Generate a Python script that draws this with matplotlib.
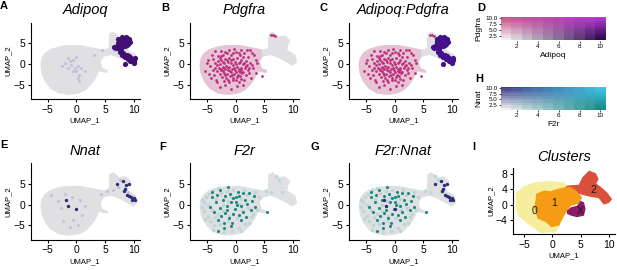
import matplotlib
matplotlib.use("Agg")
import matplotlib.pyplot as plt
import matplotlib.colors as mcolors
import numpy as np

plt.rcParams["font.family"] = ["Liberation Sans", "DejaVu Sans"]

W, H = 617, 270

# ---- data (UMAP coordinates) ----
cloud_outline = [
    (-6.3, -0.2), (-6.1, 1.3), (-5.6, 2.5), (-4.6, 3.5), (-3.0, 4.2), (-1.6, 4.5),
    (0.7, 4.5), (2.5, 4.0), (4.0, 3.6), (4.8, 3.4), (5.6, 3.8), (5.7, 7.3),
    (6.5, 7.8), (7.4, 6.6), (8.6, 6.8), (9.5, 5.7), (9.1, 4.3), (9.0, 3.3),
    (10.4, 2.2), (10.7, 0.3), (9.9, -0.5), (8.3, 0.8), (7.1, 1.6), (6.0, 2.1),
    (4.8, 1.7), (4.2, 0.5), (4.5, -1.0), (5.5, -1.6), (5.4, -2.2), (4.6, -2.0),
    (3.9, -1.8), (3.4, -3.4), (2.6, -5.0), (1.6, -6.4), (0.3, -7.2), (-1.5, -7.5),
    (-3.2, -7.1), (-4.6, -5.9), (-5.5, -4.3), (-6.1, -2.4),
]
main_blob_outline = [
    (-6.3, -0.2), (-6.1, 1.3), (-5.6, 2.5), (-4.6, 3.5), (-3.0, 4.2), (-1.6, 4.5),
    (0.7, 4.5), (2.5, 4.0), (4.0, 3.6), (4.6, 3.3), (4.6, 1.8), (4.2, 0.5),
    (4.5, -1.0), (5.5, -1.6), (5.4, -2.2), (4.6, -2.0), (3.9, -1.8), (3.4, -3.4),
    (2.6, -5.0), (1.6, -6.4), (0.3, -7.2), (-1.5, -7.5), (-3.2, -7.1), (-4.6, -5.9),
    (-5.5, -4.3), (-6.1, -2.4),
]

adipoq_high = [
    (7.1, 4.3), (7.3, 4.9), (7.4, 5.5), (7.7, 5.9), (8.05, 6.15), (8.4, 6.2),
    (8.8, 6.1), (9.1, 5.7), (9.25, 5.25), (9.0, 4.8), (8.8, 4.45), (8.4, 4.35),
    (8.05, 4.3), (7.8, 3.9), (7.65, 3.5), (7.8, 3.0), (8.05, 2.5), (8.4, 2.2),
    (8.8, 2.0), (9.2, 1.75), (9.55, 1.5), (9.85, 1.2), (10.1, 0.9), (9.95, 0.4),
    (9.95, 0.1), (9.4, 0.65), (9.6, 0.9), (9.3, 1.2), (7.6, 5.2), (8.2, 5.7),
    (8.7, 5.6), (7.5, 4.6), (7.35, 3.8), (7.6, 2.8), (8.5, 1.7), (9.0, 1.2),
    (6.9, 3.9), (6.6, 4.0), (8.3, 4.8), (7.9, 6.4), (8.6, 6.4), (9.2, 6.0),
    (7.3, 5.9), (7.9, 2.2), (8.3, 1.9), (9.8, 0.7), (10.2, 1.3), (8.5, -0.15),
]
adipoq_low = [
    (-1.5, 1.4), (-1.2, 0.6), (-0.6, 1.0), (-0.9, -0.2), (-0.1, 1.7), (-0.3, -1.0),
    (0.2, -0.6), (-0.1, -1.8), (0.8, -1.0), (0.5, -2.6), (1.4, -1.8), (-2.6, -0.6),
    (-1.5, -1.0), (-0.6, -1.8), (0.2, -3.4), (0.5, -4.2), (3.1, 2.1), (4.5, 3.3),
    (6.6, 3.3), (-2.0, 0.3),
]
pdgfra_high = [
    (-2.8, 1.5), (-2.2, 2.2), (-1.5, 2.6), (-0.8, 2.1), (0.1, 2.8), (0.8, 2.0), (1.5, 2.5), (2.2, 1.6),
    (-3.1, 0.6), (-2.5, 0.9), (-1.9, 1.2), (-1.2, 1.4), (-0.5, 1.1), (0.3, 1.3), (1.0, 0.9), (1.8, 0.7),
    (2.5, 0.3), (-3.3, -0.2), (-2.7, -0.1), (-2.0, 0.2), (-1.4, 0.4), (-0.8, 0.1), (-0.2, 0.5), (0.5, 0.2),
    (1.2, -0.1), (2.0, -0.3), (-2.9, -0.9), (-2.3, -0.7), (-1.7, -0.5), (-1.1, -0.8), (-0.5, -0.4),
    (0.2, -0.7), (0.9, -0.9), (1.6, -1.1), (-3.2, -1.7), (-2.5, -1.5), (-1.9, -1.3), (-1.3, -1.6),
    (-0.7, -1.2), (-0.1, -1.5), (0.6, -1.7), (1.3, -1.9), (2.1, -1.6), (-2.8, -2.4), (-2.1, -2.2),
    (-1.5, -2.5), (-0.9, -2.1), (-0.3, -2.4), (0.4, -2.6), (1.1, -2.3), (1.8, -2.7), (-2.4, -3.2),
    (-1.7, -3.4), (-1.0, -3.0), (-0.4, -3.5), (0.3, -3.2), (1.0, -3.6), (-2.0, -4.2), (-1.2, -4.4),
    (-0.5, -4.0), (0.5, -4.5), (1.5, -4.0), (-5.4, -1.8), (-4.8, 1.0), (-4.5, -0.5), (-4.2, 2.0),
    (-3.8, -2.8), (-4.3, -3.5), (-3.6, 3.0), (-3.9, 1.2), (-2.8, -5.6), (-0.8, -6.0), (-1.8, -5.2),
    (0.2, -5.3), (1.2, -5.0), (-3.3, -4.5), (2.5, 3.3), (3.6, 1.0), (4.5, -3.0), (3.0, -1.0),
    (2.8, 2.6), (3.5, -2.2), (2.6, -3.5), (3.2, 2.0), (1.9, 3.4), (-0.3, 3.5), (-1.2, 3.3),
    (-2.6, 3.0), (0.9, 3.2), (-3.6, 0.2), (-4.0, -1.5), (-3.5, -3.8), (2.4, -2.2), (2.9, -0.4),
    (3.8, 0.2), (-5.0, 0.3), (-4.7, -2.5), (6.5, 6.8), (6.8, 6.7), (6.2, 6.9),
    (-2.5, 1.9), (-1.8, 2.8), (-0.4, 2.5), (0.5, 2.6), (1.2, 1.6), (-2.2, 0.5), (-1.6, 0.9),
    (-0.9, 0.9), (0.0, 0.0), (0.8, 0.5), (1.5, 0.2), (-2.6, -1.2), (-2.0, -0.9), (-1.4, -1.0),
    (-0.3, -0.9), (0.5, -1.2), (1.0, -1.5), (-2.2, -1.8), (-1.0, -1.8), (0.0, -2.0), (0.8, -2.0),
    (-1.8, -2.8), (-0.6, -2.8), (0.7, -3.0), (-1.4, -3.8), (0.0, -3.9), (-3.6, -1.0), (-3.0, 1.8),
    (1.8, -0.5), (2.3, -0.9),
]
nnat_high = [
    (7.1, 4.9), (8.05, 5.6), (8.6, 4.8), (9.2, 5.0), (8.4, 3.8), (8.2, 3.3),
    (8.8, 2.3), (9.55, 1.9), (9.95, 1.5), (10.2, 1.1), (9.65, 1.0), (9.2, 2.1),
    (-1.8, 1.1), (-1.55, -0.3), (0.0, -1.1),
]
nnat_low = [
    (-4.4, 2.3), (-2.7, -0.9), (-2.0, 2.5), (-0.8, 1.8), (0.6, 1.2), (1.4, -0.3),
    (-0.6, -3.8), (-1.2, -5.5), (0.2, -5.0), (-2.3, -4.0), (1.0, -2.5), (4.3, 2.6),
    (5.3, 3.3), (6.3, 3.6), (7.3, 4.2), (7.6, 6.0), (8.9, 3.1), (-3.3, 0.8),
]
f2r_high = [
    (-4.2, 3.0), (-4.2, 1.8), (-2.7, 3.5), (-1.3, 4.2), (-0.5, 1.5), (0.1, 0.7), (0.6, 2.1),
    (1.7, 1.1), (3.2, 2.1), (3.4, -0.7), (5.4, -1.9), (-3.0, -3.6), (-2.1, -5.7), (-3.0, -6.4),
    (-0.6, -4.4), (0.6, -2.6), (-1.8, -2.1), (-3.5, 0.5), (-2.8, -0.8), (-2.2, 1.0), (-1.5, -0.3),
    (-1.0, 2.6), (-0.2, -1.0), (0.4, 3.0), (1.0, -0.4), (1.3, -1.8), (2.0, 0.2), (2.4, 2.8),
    (-3.8, -1.8), (-2.5, -2.8), (-1.2, -3.3), (-0.4, -2.2), (0.9, -3.6), (1.8, -2.9), (-1.8, 2.0),
    (-0.8, 0.5), (0.3, -0.2), (-2.0, -4.5), (-0.9, -5.2), (2.6, -1.2), (-4.4, -0.6), (-3.3, 2.3),
    (1.2, 2.9), (-1.6, -1.2), (0.0, 1.9), (2.9, 0.9),
]
f2r_low = [
    (-5.6, 0.5), (-5.2, 1.8), (-5.5, -1.5), (-4.9, -2.8), (-4.6, 2.6), (-4.9, 0.0), (-4.5, -4.0),
    (-3.9, 3.4), (-3.7, -5.0), (-3.4, 1.4), (-3.1, -2.2), (-2.8, -4.7), (-2.5, 2.8), (-2.3, -0.2),
    (-2.0, -6.5), (-1.6, 3.3), (-1.3, 0.8), (-1.1, -2.7), (-0.7, -6.3), (-0.4, 3.6), (0.2, -3.3),
    (0.5, -5.6), (0.9, 1.3), (1.4, 3.5), (1.6, -4.6), (2.2, -0.8), (2.7, -3.0), (3.3, 3.1),
    (3.7, -1.4), (4.1, 1.9), (-5.9, -0.6), (-5.3, -3.4), (-4.2, -1.2), (-3.6, -3.0), (-2.2, -1.6),
    (-1.4, -4.0), (0.6, 0.2), (1.1, -1.2), (2.0, 2.2), (-0.9, 1.9), (6.2, 3.0), (5.2, 3.3),
    (7.5, 5.8), (8.0, 3.0), (7.0, 6.8), (-4.0, -6.0), (-5.8, 1.2), (-3.0, 3.9), (1.0, -6.3),
    (2.4, -4.4), (3.0, -2.2),
]

clusters = ["0", "1", "2", "X"]
cluster_outlines = {
    "0": [(-6.4, 3.2), (-5.0, 4.9), (-3.2, 5.8), (-0.5, 6.2), (2.1, 5.8), (3.0, 4.5),
          (2.5, 1.0), (1.8, -3.0), (1.4, -5.5), (0.6, -7.2), (-2.0, -7.5), (-4.4, -5.0),
          (-6.0, -3.0), (-6.4, -1.6)],
    "2": [(1.9, 4.1), (2.7, 5.0), (4.7, 5.2), (5.3, 7.1), (6.5, 8.9), (7.7, 8.2),
          (8.2, 6.7), (7.8, 5.5), (8.6, 4.6), (9.7, 3.2), (10.6, 1.4), (10.0, 0.4),
          (9.1, 0.0), (8.2, 1.7), (6.5, 2.1), (4.7, 2.8), (3.3, 3.2), (2.1, 3.2)],
    "1": [(-2.9, 2.8), (-1.4, 3.7), (-0.3, 3.5), (0.9, 4.1), (2.1, 4.5), (3.2, 4.6),
          (4.2, 3.7), (5.3, 1.9), (4.7, 0.2), (3.3, -0.3), (2.1, -2.9), (1.2, -5.5),
          (-0.2, -5.9), (-1.1, -4.6), (-2.6, -3.7), (-3.2, -0.7), (-2.9, 1.6)],
    "X": [(2.6, -1.6), (3.3, -0.7), (4.4, -0.3), (5.0, 1.0), (5.6, 0.6), (5.9, -1.1),
          (5.6, -2.9), (4.4, -3.3), (3.3, -2.9), (2.6, -2.4)],
}
cluster_label_pos = {"0": (-3.2, -1.6), "1": (0.4, 0.4), "2": (7.2, 3.9), "X": (4.9, -1.8)}

blend_levels = list(range(1, 11))

# ---- styles ----
GREY = "#E0E0E3"
PINK_BG = "#E6C3D5"
PURPLE = "#3F0F72"
LAVENDER = "#C5BFDB"
MAGENTA = "#BE2F7B"
NAVY = "#2B2C7C"
TEAL = "#1B8A80"
LIGHT_TEAL = "#BCD8D5"
cluster_colors = {"0": "#F6EE9C", "1": "#F59B14", "2": "#D9513A", "X": "#8C1A6A"}

fig = plt.figure(figsize=(W / 100, H / 100), dpi=100)


def rect(left, top, width, height):
    return [left / W, 1 - (top + height) / H, width / W, height / H]


def style_axes(ax, xt, yt):
    for s in ["top", "right"]:
        ax.spines[s].set_visible(False)
    for s in ["left", "bottom"]:
        ax.spines[s].set_linewidth(0.8)
    ax.set_xticks(xt)
    ax.set_yticks(yt)
    ax.tick_params(labelsize=7.5, length=2.5, width=0.8, pad=1.5)
    ax.set_xlabel("UMAP_1", fontsize=5.5, labelpad=2)
    ax.set_ylabel("UMAP_2", fontsize=5.5, labelpad=1)


def pts(ax, data, color, s):
    xs, ys = zip(*data)
    ax.scatter(xs, ys, s=s, c=color, linewidths=0, zorder=3)


def poly(ax, data, color, z=1):
    xs, ys = zip(*data)
    ax.fill(xs, ys, color=color, lw=0, zorder=z)


def umap_panel(left, top, title):
    ax = fig.add_axes(rect(left, top, 109, 76.5))
    ax.set_xlim(-8, 11)
    ax.set_ylim(-8.5, 9.9)
    style_axes(ax, [-5, 0, 5, 10], [-5, 0, 5])
    ax.set_title(title, fontsize=10.5, style="italic", pad=6)
    return ax


def letter(px, py, txt):
    fig.text(px / W, 1 - py / H, txt, fontsize=8, fontweight="bold", ha="center", va="center")


cols = [30.6, 189.8, 348.8]
rows = [22.6, 163.4]

# A
ax = umap_panel(cols[0], rows[0], "Adipoq")
poly(ax, cloud_outline, GREY)
pts(ax, adipoq_low, LAVENDER, 5)
pts(ax, adipoq_high, PURPLE, 14)

# B
ax = umap_panel(cols[1], rows[0], "Pdgfra")
poly(ax, cloud_outline, GREY)
poly(ax, main_blob_outline, PINK_BG, 2)
pts(ax, pdgfra_high, MAGENTA, 4)

# C
ax = umap_panel(cols[2], rows[0], "Adipoq:Pdgfra")
poly(ax, cloud_outline, GREY)
poly(ax, main_blob_outline, PINK_BG, 2)
pts(ax, pdgfra_high, MAGENTA, 4)
pts(ax, adipoq_high, "#43128A", 14)

# E
ax = umap_panel(cols[0], rows[1], "Nnat")
poly(ax, cloud_outline, GREY)
pts(ax, nnat_low, LAVENDER, 5)
pts(ax, nnat_high, NAVY, 6)

# F
ax = umap_panel(cols[1], rows[1], "F2r")
poly(ax, cloud_outline, GREY)
pts(ax, f2r_low, LIGHT_TEAL, 7)
pts(ax, f2r_high, TEAL, 5)

# G
ax = umap_panel(cols[2], rows[1], "F2r:Nnat")
poly(ax, cloud_outline, GREY)
pts(ax, f2r_low, LIGHT_TEAL, 7)
pts(ax, f2r_high, TEAL, 5)
pts(ax, nnat_high, NAVY, 6)

# I clusters
ax = fig.add_axes(rect(513.3, 168.3, 101.7, 65.7))
ax.set_xlim(-6.9, 11.1)
ax.set_ylim(-7.7, 9.5)
style_axes(ax, [-5, 0, 5, 10], [-4, 0, 4, 8])
ax.set_title("Clusters", fontsize=10.5, style="italic", pad=5)
for i, c in enumerate(["0", "2", "1", "X"]):
    poly(ax, cluster_outlines[c], cluster_colors[c], 1 + i)
for c in clusters:
    x, y = cluster_label_pos[c]
    ax.text(x, y, c, fontsize=7.5, ha="center", va="center", color="#1a1a1a", zorder=10)


# D / H blend legends
def blend_grid(bl, br, tl, tr):
    n = len(blend_levels)
    corners = [np.array(mcolors.to_rgb(c)) for c in (bl, br, tl, tr)]
    grid = np.zeros((n, n, 3))
    for j, yv in enumerate(blend_levels):
        for i, xv in enumerate(blend_levels):
            u = (xv - 1) / (n - 1)
            v = (yv - 1) / (n - 1)
            grid[j, i] = ((1 - u) * (1 - v) * corners[0] + u * (1 - v) * corners[1]
                          + (1 - u) * v * corners[2] + u * v * corners[3])
    return grid


def blend_panel(top, grid, xlabel, ylabel):
    ax = fig.add_axes(rect(501, top, 104.7, 23.5))
    ax.imshow(grid, origin="lower", extent=(0.5, 10.5, 0.5, 10.5), aspect="auto",
              interpolation="nearest")
    for s in ax.spines.values():
        s.set_visible(False)
    ax.set_xticks([2, 4, 6, 8, 10])
    ax.set_yticks([2.5, 5.0, 7.5, 10.0])
    ax.set_yticklabels(["2.5", "5.0", "7.5", "10.0"])
    ax.tick_params(labelsize=4.5, length=1.5, width=0.5, pad=1)
    ax.set_xlabel(xlabel, fontsize=6, labelpad=2)
    ax.set_ylabel(ylabel, fontsize=6, labelpad=2)
    return ax


blend_panel(17, blend_grid("#F0F0F0", "#2E0A4E", "#C84E86", "#B43CDC"), "Adipoq", "Pdgfra")
blend_panel(86.5, blend_grid("#F0F0F0", "#1A8A86", "#3A3A8A", "#40C8EC"), "F2r", "Nnat")

for px, py, t in [(4, 6, "A"), (165, 8, "B"), (323, 8, "C"), (481, 8, "D"),
                  (479, 79, "H"), (4, 145, "E"), (163, 147, "F"), (315, 147, "G"), (474, 147, "I")]:
    letter(px, py, t)

fig.savefig("out.png", dpi=100)
